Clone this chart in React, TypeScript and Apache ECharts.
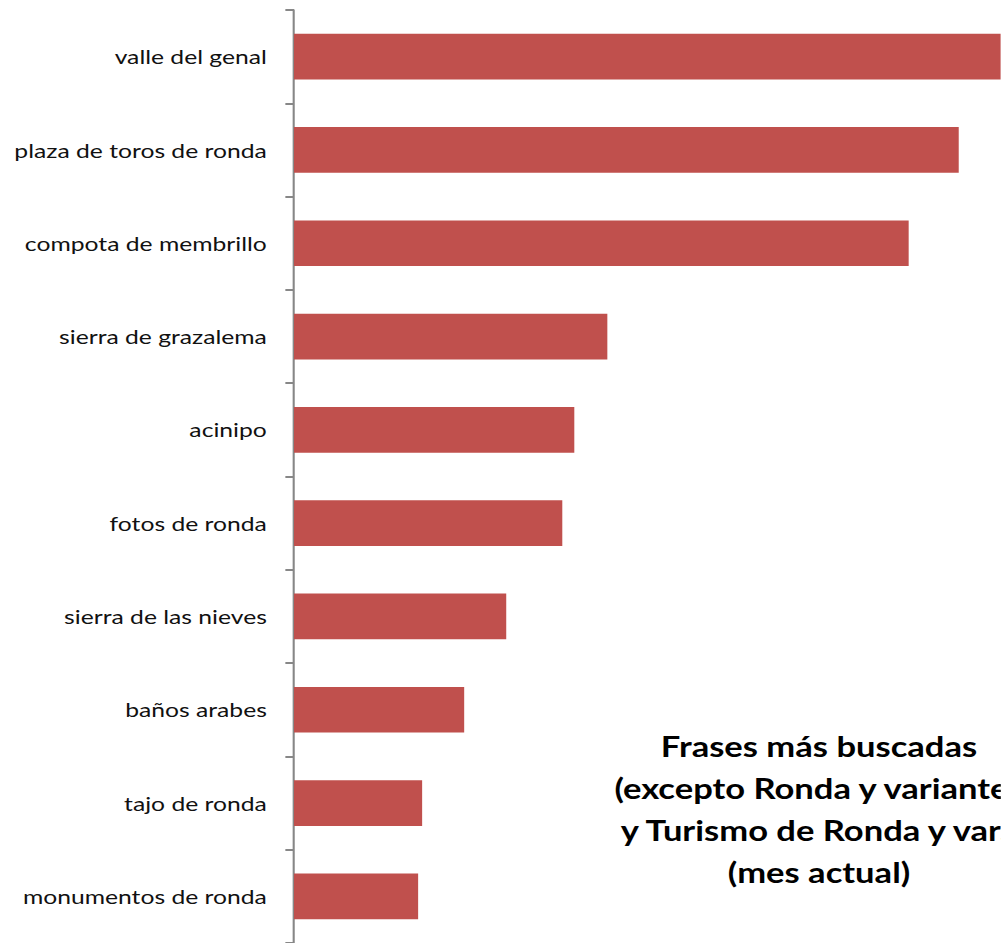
import React, { useEffect, useRef } from "react";
import * as echarts from "echarts";

const categories = [
  "valle del genal",
  "plaza de toros de ronda",
  "compota de membrillo",
  "sierra de grazalema",
  "acinipo",
  "fotos de ronda",
  "sierra de las nieves",
  "baños arabes",
  "tajo de ronda",
  "monumentos de ronda",
];
const values = [760, 664, 614, 313, 280, 268, 212, 170, 128, 124];
const titleLines = [
  "Frases más buscadas",
  "(excepto Ronda y variantes",
  "y Turismo de Ronda y var.)",
  "(mes actual)",
];

const STRETCH = 1.234;
const W = 1001 / STRETCH;

export default function App() {
  const ref = useRef<HTMLDivElement>(null);
  useEffect(() => {
    if (!ref.current) return;
    const chart = echarts.init(ref.current, undefined, { renderer: "svg" });
    chart.setOption({
      animation: false,
      backgroundColor: "#ffffff",
      grid: { left: 294 / STRETCH, right: 0, top: 10, bottom: 0, containLabel: false },
      xAxis: {
        type: "value",
        min: 0,
        max: 706,
        show: false,
      },
      yAxis: {
        type: "category",
        inverse: true,
        data: categories,
        axisLine: { show: true, lineStyle: { color: "#878787", width: 1.7 } },
        axisTick: { show: true, length: 7, lineStyle: { color: "#878787", width: 2 } },
        axisLabel: {
          color: "#111111",
          fontFamily: "Lato",
          fontSize: 20,
          margin: 22,
        },
        splitLine: { show: false },
      },
      series: [
        {
          type: "bar",
          data: values,
          barWidth: "49%",
          clip: true,
          itemStyle: { color: "#C0504D" },
        },
      ],
      graphic: [
        {
          type: "text",
          x: 819 / STRETCH,
          y: 725,
          style: {
            text: titleLines.join("\n"),
            font: "bold 28px Lato",
            fill: "#000000",
            align: "center",
            verticalAlign: "top",
            lineHeight: 42,
          },
        },
      ],
    });
    return () => chart.dispose();
  }, []);
  return (
    <div style={{ position: "absolute", left: 0, top: 0, width: 1001, height: 943, overflow: "hidden", background: "#fff" }}>
      <div
        ref={ref}
        style={{
          width: W,
          height: 943,
          transform: `scaleX(${STRETCH})`,
          transformOrigin: "0 0",
        }}
      />
    </div>
  );
}
